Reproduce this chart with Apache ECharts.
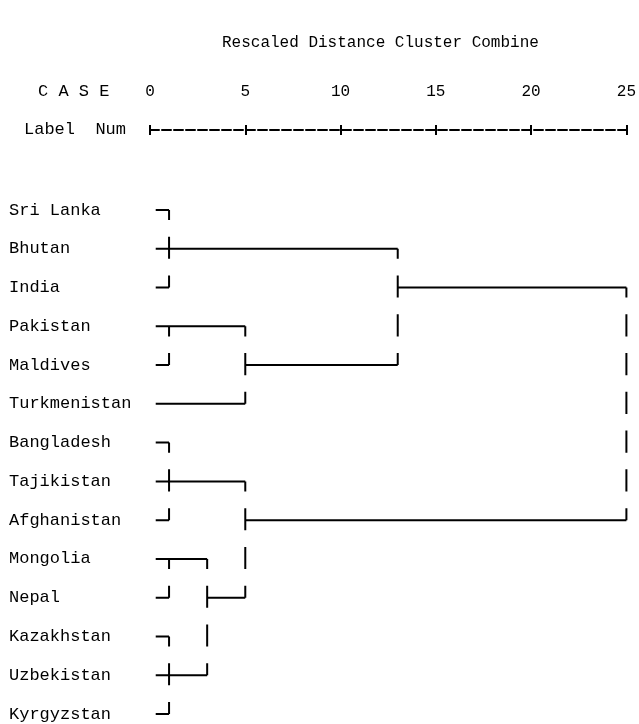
<!DOCTYPE html>
<html>
<head>
<meta charset="utf-8">
<script src="https://cdn.jsdelivr.net/npm/echarts@6/dist/echarts.min.js"></script>
<style>
  body { margin: 0; padding: 0; background: #fff; }
  #main { width: 639px; height: 724px; }
</style>
</head>
<body>
<div id="main"></div>
<script>
// cases, top to bottom
var countries = ['Sri Lanka', 'Bhutan', 'India', 'Pakistan', 'Maldives', 'Turkmenistan',
  'Bangladesh', 'Tajikistan', 'Afghanistan', 'Mongolia', 'Nepal', 'Kazakhstan',
  'Uzbekistan', 'Kyrgyzstan'];
// rescaled distance axis
var distTicks = [0, 5, 10, 15, 20, 25];
// clusters: node ids 0..13 are the cases, 14.. are these clusters in order
var clusterKids = [[0, 1, 2], [3, 4], [15, 5], [14, 16], [6, 7, 8], [9, 10], [11, 12, 13], [19, 20], [18, 21], [17, 22]];
var clusterDist = [1, 1, 5, 13, 1, 1, 1, 3, 5, 25];
// row the joined cluster line leaves from
var clusterRow = [1, 3, 4, 2, 7, 9, 12, 10, 8, null];

var leafStart = 0.3;          // where case lines begin
var glyphUp = 0.31, glyphDown = 0.26;  // text-style "|" per row

var nCase = countries.length;
function nodeRow(id) { return id < nCase ? id : clusterRow[id - nCase]; }
function nodeDist(id) { return id < nCase ? leafStart : clusterDist[id - nCase]; }

// polyline points, '-' breaks the line between segments
function buildPoints() {
  var pts = [];
  function seg(x1, y1, x2, y2) {
    pts.push([x1, y1], [x2, y2], '-');
  }
  for (var c = 0; c < clusterKids.length; c++) {
    var d = clusterDist[c];
    var rows = [];
    clusterKids[c].forEach(function (k) {
      var kr = nodeRow(k);
      rows.push(kr);
      seg(nodeDist(k), kr, d, kr);
    });
    var first = Math.min.apply(null, rows), last = Math.max.apply(null, rows);
    for (var r = first; r <= last; r++) {
      seg(d, r === first ? r : r - glyphUp, d, r === last ? r : r + glyphDown);
    }
  }
  return pts;
}

var chart = echarts.init(document.getElementById('main'));
var font = '"Liberation Mono", "DejaVu Sans Mono", monospace';

var option = {
  animation: false,
  backgroundColor: '#fff',
  grid: { left: 150, right: 6, top: 210, bottom: 10 },
  graphic: [
    { type: 'text', left: 222, top: 35,
      style: { text: 'Rescaled Distance Cluster Combine', font: '16px ' + font, fill: '#000' } },
    { type: 'text', left: 38, top: 83,
      style: { text: 'C A S E', font: '17px ' + font, fill: '#000' } },
    { type: 'text', left: 24, top: 121,
      style: { text: 'Label  Num', font: '17px ' + font, fill: '#000' } }
  ],
  xAxis: [
    {
      type: 'value', position: 'top', offset: 80,
      min: distTicks[0], max: distTicks[distTicks.length - 1], interval: 5,
      axisLine: { show: true, onZero: false, lineStyle: { color: '#000', width: 2, type: [9, 3] } },
      axisTick: { show: true, length: 5, lineStyle: { color: '#000', width: 2 } },
      axisLabel: { margin: 30, color: '#000', fontFamily: font, fontSize: 16 },
      splitLine: { show: false }
    },
    {
      type: 'value', position: 'top', offset: 80,
      min: distTicks[0], max: distTicks[distTicks.length - 1], interval: 5,
      axisLine: { show: false, onZero: false },
      axisTick: { show: true, inside: true, length: 5, lineStyle: { color: '#000', width: 2 } },
      axisLabel: { show: false },
      splitLine: { show: false }
    }
  ],
  yAxis: {
    type: 'value', inverse: true, min: 0, max: nCase - 1, interval: 1,
    axisLine: { show: false }, axisTick: { show: false }, splitLine: { show: false },
    axisLabel: {
      align: 'left', margin: 141, color: '#000', fontFamily: font, fontSize: 17,
      padding: [0, 0, 6, 0],
      formatter: function (v) { return countries[v] || ''; }
    }
  },
  series: [{
    type: 'line',
    data: buildPoints(),
    showSymbol: false,
    symbol: 'none',
    connectNulls: false,
    silent: true,
    lineStyle: { color: '#000', width: 2, cap: 'butt', join: 'miter' }
  }]
};
chart.setOption(option);
</script>
</body>
</html>
